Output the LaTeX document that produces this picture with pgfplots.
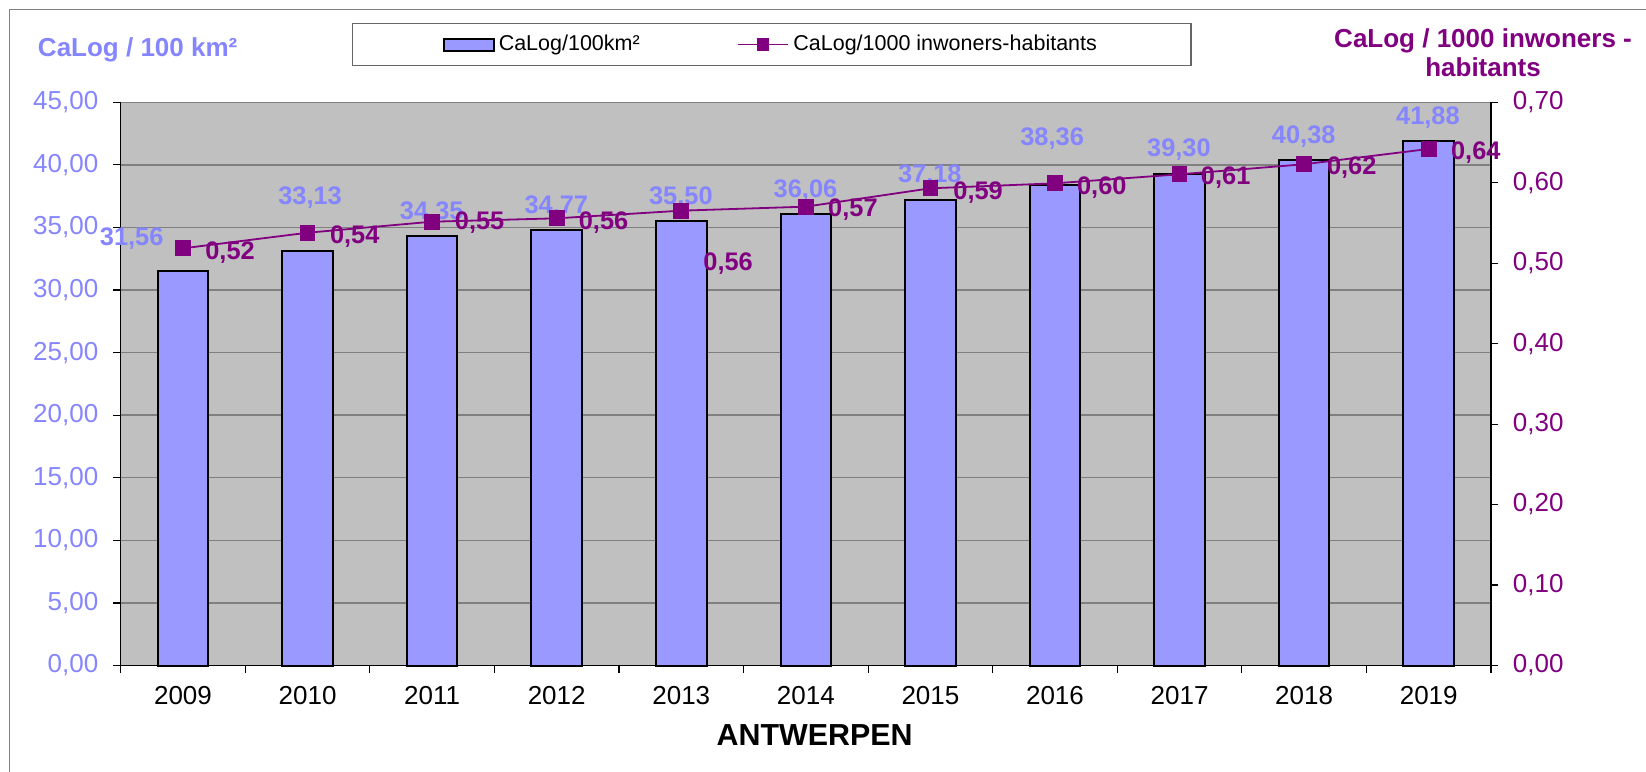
\documentclass[border=0pt]{standalone}
\usepackage{pgfplots}
\usepackage{pgfplotstable}
\pgfplotsset{compat=1.18}
\usepackage{fontspec}
\setmainfont{Liberation Sans}
\definecolor{barblue}{HTML}{9999FF}
\definecolor{txtblue}{HTML}{8585FF}
\definecolor{linepurple}{HTML}{800080}
\definecolor{plotbg}{HTML}{C0C0C0}
\definecolor{gridgray}{HTML}{808080}

\pgfplotstableread{
x year bar line
0 2009 31.56 0.5185
1 2010 33.13 0.5379
2 2011 34.35 0.5516
3 2012 34.77 0.5558
4 2013 35.50 0.5653
5 2014 36.06 0.5703
6 2015 37.18 0.5931
7 2016 38.36 0.5993
8 2017 39.30 0.6105
9 2018 40.38 0.6230
10 2019 41.88 0.6420
}\datatable

\tikzset{lbl/.style={font=\fontsize{12.7}{14}\selectfont\bfseries, text height=9.1pt, text depth=0pt, inner sep=0pt, anchor=center}}

\pgfplotsset{
 barleg/.style={fill=barblue, draw=black, line width=1pt,
   legend image code/.code={\draw[##1] (0pt,-3pt) rectangle (25pt,3pt);}},
 lineleg/.style={legend image code/.code={\draw[mark repeat=2,mark phase=2,##1,mark size=2.75pt] plot coordinates {(0pt,0pt) (12.7pt,0pt) (25.4pt,0pt)};}},
 common/.style={at={(0,0)}, anchor=south west, scale only axis,
   width=685.15pt, height=281.6pt, xmin=-0.5, xmax=10.5, clip=false,
   tick align=outside, major tick length=0pt, minor tick length=3.7pt,
   tick style={black, line width=0.6pt},
   minor tick style={black, line width=0.6pt},
   axis line style={black, line width=0.6pt},
   tick label style={font=\fontsize{13}{15}\selectfont},
   yticklabel style={/pgf/number format/.cd, fixed, fixed zerofill, precision=2, use comma, assume math mode=true, /tikz/.cd},
 },
}

\begin{document}
\begin{tikzpicture}
\useasboundingbox (-60.35pt,-53.25pt) rectangle (762.65pt,332.75pt);
\draw[gridgray, line width=0.6pt] (-55.7pt,-60pt) -- (-55.7pt,328.1pt) -- (770pt,328.1pt);

\begin{axis}[common,
  ymin=0, ymax=45,
  axis background/.style={fill=plotbg},
  axis x line*=bottom, axis y line*=left,
  xtick={0,1,2,3,4,5,6,7,8,9,10},
  xticklabels={2009,2010,2011,2012,2013,2014,2015,2016,2017,2018,2019},
  minor xtick={-0.5,0.5,...,10.5},
  xticklabel style={yshift=-6.65pt, text=black},
  ytick={0,5,10,15,20,25,30,35,40,45},
  minor ytick={0,5,10,15,20,25,30,35,40,45},
  yticklabel style={xshift=-7.7pt, text=txtblue},
  ymajorgrids, major grid style={gridgray, line width=0.7pt},
  xlabel={ANTWERPEN},
  every axis x label/.style={at={(axis description cs:0.5064,0)}, yshift=-34.6pt, anchor=center, font=\fontsize{15.2}{17}\selectfont\bfseries},
  ylabel={CaLog / 100 km²},
  every axis y label/.style={at={(axis description cs:0.0124,1.0929)}, anchor=center, font=\fontsize{13}{15}\selectfont\bfseries, text=txtblue},
]
\addplot[ybar, bar width=25.35pt, fill=barblue, draw=black, line width=1pt] table[x=x, y=bar]{\datatable};
\node[lbl, text=txtblue] at (axis cs:-0.412,34.26) {31,56};
\node[lbl, text=txtblue] at (axis cs:1.020,37.59) {33,13};
\node[lbl, text=txtblue] at (axis cs:1.997,36.39) {34,35};
\node[lbl, text=txtblue] at (axis cs:2.997,36.87) {34,77};
\node[lbl, text=txtblue] at (axis cs:3.997,37.59) {35,50};
\node[lbl, text=txtblue] at (axis cs:4.997,38.13) {36,06};
\node[lbl, text=txtblue] at (axis cs:5.995,39.33) {37,18};
\node[lbl, text=txtblue] at (axis cs:6.977,42.31) {38,36};
\node[lbl, text=txtblue] at (axis cs:7.995,41.40) {39,30};
\node[lbl, text=txtblue] at (axis cs:8.997,42.43) {40,38};
\node[lbl, text=txtblue] at (axis cs:9.994,43.99) {41,88};
\end{axis}

\begin{axis}[common,
  ymin=0, ymax=0.7,
  axis x line=none, axis y line*=right,
  xtick=\empty,
  ytick={0,0.1,0.2,0.3,0.4,0.5,0.6,0.7},
  minor ytick={0,0.1,0.2,0.3,0.4,0.5,0.6,0.7},
  yticklabel style={xshift=7.4pt, text=linepurple},
  ylabel={CaLog / 1000 inwoners -\\habitants},
  every axis y label/.style={at={(axis description cs:0.9942,1.0884)}, anchor=center, align=center, font=\fontsize{13}{14.2}\selectfont\bfseries, text=linepurple},
  legend columns=2,
  legend style={at={(0.4752,1.1026)}, anchor=center, draw=gray!80!black, line width=0.6pt, fill=white,
    font=\fontsize{10.75}{12}\selectfont, inner xsep=45pt, inner ysep=4pt,
    /tikz/every even column/.append style={column sep=46.5pt}},
]
\addlegendimage{barleg}
\addlegendentry{CaLog/100km²}
\addplot[linepurple, line width=0.9pt, mark=square*, mark size=3.5pt, mark options={solid}, lineleg] table[x=x, y=line]{\datatable};
\addlegendentry{CaLog/1000 inwoners-habitants}
\node[lbl, text=linepurple] at (axis cs:0.378,0.5164) {0,52};
\node[lbl, text=linepurple] at (axis cs:1.379,0.5363) {0,54};
\node[lbl, text=linepurple] at (axis cs:2.381,0.5537) {0,55};
\node[lbl, text=linepurple] at (axis cs:3.376,0.5537) {0,56};
\node[lbl, text=linepurple] at (axis cs:4.376,0.5019) {0,56};
\node[lbl, text=linepurple] at (axis cs:5.378,0.5695) {0,57};
\node[lbl, text=linepurple] at (axis cs:6.383,0.5910) {0,59};
\node[lbl, text=linepurple] at (axis cs:7.376,0.5972) {0,60};
\node[lbl, text=linepurple] at (axis cs:8.370,0.6088) {0,61};
\node[lbl, text=linepurple] at (axis cs:9.382,0.6221) {0,62};
\node[lbl, text=linepurple] at (axis cs:10.378,0.6407) {0,64};
\end{axis}
\end{tikzpicture}
\end{document}
